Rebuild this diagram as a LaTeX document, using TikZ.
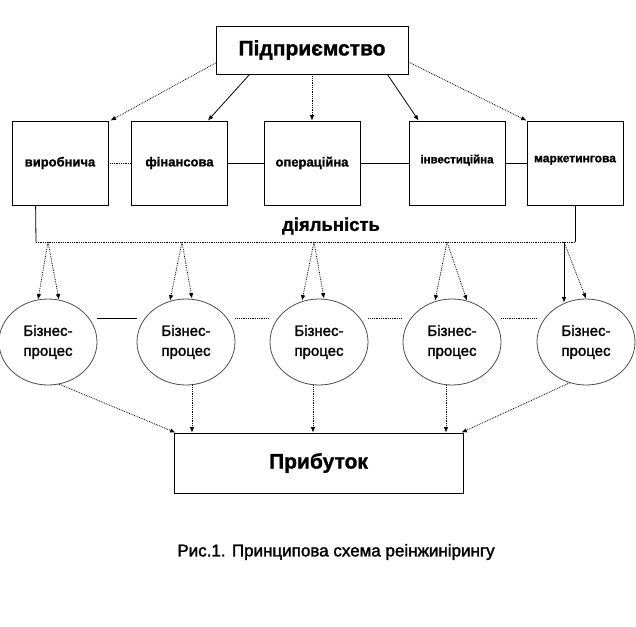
\documentclass[tikz,border=0pt]{standalone}
\usepackage{fontspec}
\setmainfont{Liberation Sans}
\newfontfamily\heavyfont[FakeBold=1.3,UprightFont={* Bold}]{Liberation Sans}
\newfontfamily\medfont[FakeBold=1.8]{Liberation Sans}
\usetikzlibrary{arrows.meta,positioning,shapes.geometric}

\begin{document}
\begin{tikzpicture}[
  x=1pt, y=-1pt,
  >={Latex[length=5.5pt,width=4.5pt]},
  head/.style={draw, line width=.8pt, minimum width=192pt, minimum height=48pt,
    font=\fontsize{21}{24}\heavyfont},
  deal/.style={draw, line width=.8pt, minimum width=96pt, minimum height=84pt,
    inner sep=0pt, font=\fontsize{13}{15}\heavyfont},
  proc/.style={ellipse, draw=black!70, line width=.8pt, minimum width=98pt,
    minimum height=86pt, inner sep=0pt, align=center,
    font=\fontsize{15}{20}\medfont},
  total/.style={draw, line width=.8pt, minimum width=289pt, minimum height=60pt,
    font=\fontsize{21}{24}\heavyfont},
  link/.style={line width=.8pt},
  dots/.style={line width=.8pt, densely dotted},
  flow/.style={->, line width=.8pt},
  dflow/.style={->, line width=.8pt, densely dotted}
]
\path[use as bounding box, fill=white] (0,0) rectangle (636,626);

% Enterprise
\node[head] (firm) at (312,50) {Підприємство};

% Kinds of activity
\node[deal] (vyr) at (60,163) {виробнича};
\node[deal] (fin) at (179.5,163) {фінансова};
\node[deal] (oper) at (312,163) {операційна};
\node[deal, font=\fontsize{11.5}{14}\heavyfont, text depth=8pt] (inv) at (457,163) {інвестиційна};
\node[deal, font=\fontsize{12}{14}\heavyfont, text depth=8pt] (mark) at (575,163) {маркетингова};

\draw[dflow] ([yshift=-13pt]firm.west) -- ([xshift=2pt]vyr.north east);
\draw[flow] ([xshift=34pt]firm.south west) -- ([xshift=-20pt]fin.north east);
\draw[dflow] (firm.south) -- (oper.north);
\draw[flow] ([xshift=-21pt]firm.south east) -- ([xshift=10pt]inv.north west);
\draw[dflow] ([yshift=-12pt]firm.east) -- (mark.north west);

\draw[dots] (vyr.east) -- (fin.west);
\draw[link] (fin.east) -- (oper.west);
\draw[link] (oper.east) -- (inv.west);
\draw[link] (inv.east) -- (mark.west);

% Bracket under the activities
\coordinate (brL) at (36,242);
\coordinate (brR) at (575,242);
\draw[link] ([xshift=24pt]vyr.south west) -- (brL);
\draw[dots] (brL) -- (brR);
\draw[link] (mark.south) -- (brR);
\node[font=\fontsize{18.5}{22}\heavyfont] (act) at (331,226) {діяльність};

% Business processes
\node[proc] (bp1) at (48,342) {Бізнес-\\процес};
\node[proc] (bp2) at (186,342) {Бізнес-\\процес};
\node[proc] (bp3) at (319,342) {Бізнес-\\процес};
\node[proc] (bp4) at (452,342) {Бізнес-\\процес};
\node[proc] (bp5) at (586,342) {Бізнес-\\процес};

\draw[link] ([yshift=24pt]bp1.east) -- ([yshift=24pt]bp2.west);
\draw[dots] ([yshift=24pt]bp2.east) -- ([yshift=24pt]bp3.west);
\draw[dots] ([yshift=24pt]bp3.east) -- ([yshift=24pt]bp4.west);
\draw[dots] ([yshift=24pt]bp4.east) -- ([yshift=24pt]bp5.west);

\coordinate (a1) at (48,242);
\coordinate (a2) at (182,242);
\coordinate (a3) at (314,242);
\coordinate (a4) at (447,242);
\coordinate (a5) at (564,242);
\draw[dflow] (a1) -- ([xshift=-10pt,yshift=-1pt]bp1.north);
\draw[dflow] (a1) -- ([xshift=11pt,yshift=-1pt]bp1.north);
\draw[dflow] (a2) -- ([xshift=-16pt,yshift=-2pt]bp2.north);
\draw[dflow] (a2) -- ([xshift=6pt]bp2.north);
\draw[dflow] (a3) -- ([xshift=-17pt,yshift=-2pt]bp3.north);
\draw[dflow] (a3) -- ([xshift=5pt]bp3.north);
\draw[dflow] (a4) -- ([xshift=-17pt,yshift=-2pt]bp4.north);
\draw[dflow] (a4) -- ([xshift=15pt,yshift=-2pt]bp4.north);
\draw[flow] (a5) -- ([xshift=-22pt,yshift=-4pt]bp5.north);
\draw[dflow] (a5) -- (bp5.north);

% Profit
\node[total] (profit) at (318.5,463) {Прибуток};
\draw[dflow] (bp1.285) -- ([xshift=2pt]profit.north west);
\draw[dflow] ([xshift=6pt]bp2.south) -- ([xshift=6pt]bp2.south |- profit.north);
\draw[dflow] ([xshift=-6pt]bp3.south) -- ([xshift=-6pt]bp3.south |- profit.north);
\draw[dflow] ([xshift=-6pt]bp4.south) -- ([xshift=-6pt]bp4.south |- profit.north);
\draw[dflow] (bp5.248) -- ([xshift=-2pt]profit.north east);

% Caption
\node[font=\fontsize{17}{20}\medfont] (cap) at (336,552)
  {Рис.1. Принципова схема реінжинірингу};
\end{tikzpicture}
\end{document}
